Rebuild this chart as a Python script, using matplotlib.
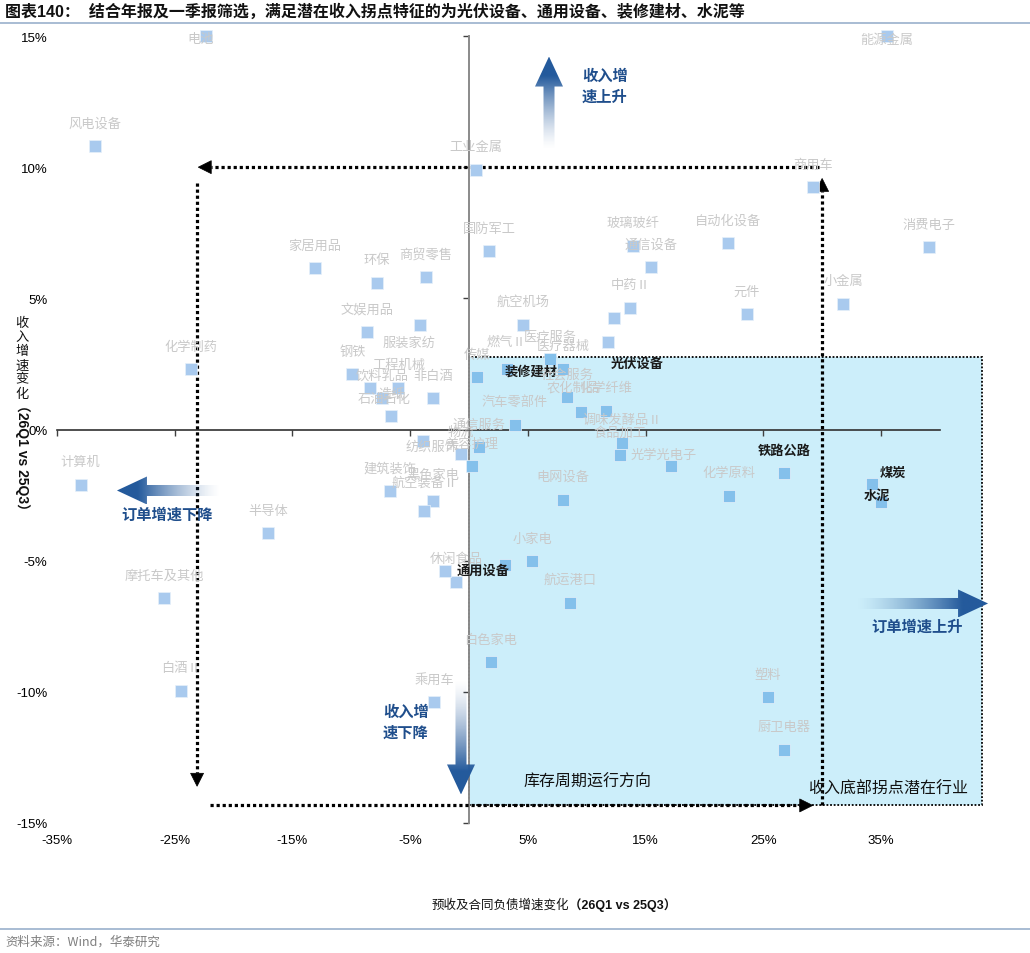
import matplotlib
matplotlib.use('Agg')
import matplotlib.pyplot as plt
import numpy as np
from matplotlib.patches import Rectangle, Polygon
from matplotlib.lines import Line2D
from matplotlib.colors import to_rgb

plt.rcParams['font.family'] = ['Noto Sans CJK SC', 'DejaVu Sans']

# ---------------- data ----------------
industries = ['电池', '能源金属', '风电设备', '工业金属', '商用车', '自动化设备', '消费电子',
              '国防军工', '玻璃玻纤', '通信设备', '家居用品', '环保', '商贸零售', '小金属',
              '中药Ⅱ', '元件', '', '航空机场', '服装家纺', '文娱用品', '光伏设备', '化学制药',
              '钢铁', '石油石化', '工程机械', '饮料乳品', '非白酒', '造纸', '纺织服饰', '物流',
              '建筑装饰', '黑色家电', '航空装备Ⅱ', '计算机', '半导体', '休闲食品', '',
              '摩托车及其他', '白酒Ⅱ', '乘用车',
              '医疗服务', '医疗器械', '燃气Ⅱ', '装修建材', '传媒', '社会服务', '农化制品',
              '化学纤维', '汽车零部件', '通信服务', '美容护理', '调味发酵品Ⅱ', '食品加工',
              '光学光电子', '电网设备', '铁路公路', '化学原料', '煤炭', '水泥', '小家电',
              '通用设备', '航运港口', '白色家电', '塑料', '厨卫电器']
order_chg = [-22.3, 35.5, -31.8, 0.6, 29.2, 22.0, 39.1,
             1.7, 13.9, 15.5, -13.1, -7.8, -3.65, 31.8,
             13.7, 23.6, 12.3, 4.6, -4.2, -8.7, 11.8, -23.6,
             -9.9, -8.4, -6.0, -7.4, -3.05, -6.6, -3.9, -0.7,
             -6.7, -3.1, -3.8, -33.0, -17.1, -1.1, -2.0,
             -25.9, -24.5, -2.97,
             6.9, 8.0, 3.2, 3.2, 0.7, 8.3, 9.5,
             11.6, 3.9, 0.85, 0.25, 13.0, 12.8,
             17.2, 8.0, 26.8, 22.1, 34.2, 35.0, 5.35,
             3.06, 8.6, 1.87, 25.4, 26.8]
rev_chg = [15.0, 15.0, 10.8, 9.9, 9.25, 7.1, 6.95,
           6.8, 7.0, 6.2, 6.15, 5.6, 5.8, 4.8,
           4.65, 4.4, 4.25, 4.0, 4.0, 3.7, 3.35, 2.3,
           2.1, 1.6, 1.6, 1.2, 1.2, 0.5, -0.42, -0.95,
           -2.36, -2.74, -3.09, -2.1, -3.96, -5.8, -5.41,
           -6.44, -9.95, -10.4,
           2.67, 2.32, 2.32, 2.32, 2.0, 1.22, 0.65,
           0.72, 0.19, -0.68, -1.41, -0.5, -0.99,
           -1.41, -2.67, -1.64, -2.52, -2.06, -2.78, -5.03,
           -5.18, -6.6, -8.88, -10.2, -12.2]
highlight = ['光伏设备', '通用设备', '装修建材', '水泥', '煤炭', '铁路公路']
xticks = [-35, -25, -15, -5, 5, 15, 25, 35]
yticks = [-15, -10, -5, 0, 5, 10, 15]
xtick_labels = [f'{v}%' for v in xticks]
ytick_labels = [f'{v}%' for v in yticks]

# region of "潜在收入拐点" (x>0, y below 2.75%)
zone_x = (0, 43.6)
zone_y = (-14.33, 2.75)

# ---------------- layout / style ----------------
W, H = 1030, 954
fig = plt.figure(figsize=(W / 100, H / 100), dpi=100)
ax = fig.add_axes([57 / W, 1 - 824 / H, (998.7 - 57) / W, (824 - 37) / H])
ax.set_xlim(-35, 45)
ax.set_ylim(-15, 15)
ax.patch.set_visible(False)


def fx(px):
    return px / W


def fy(py):
    return 1 - py / H


label_offsets = {  # pixels (dx right, dy up) relative to marker
    '电池': (-6, -3), '能源金属': (0, -3), '服装家纺': (-10, -18), '石油石化': (14, -11),
    '纺织服饰': (9, -6), '光学光电子': (-8, 12), '光伏设备': (29, -21), '装修建材': (24, -2),
    '通用设备': (-22, -4), '煤炭': (21, 12), '水泥': (-4, 8), '农化制品': (-8, 25),
    '黑色家电': (0, 27), '航空装备Ⅱ': (0, 28), '燃气Ⅱ': (0, 27),
}

# spines
for s in ['top', 'right']:
    ax.spines[s].set_visible(False)
ax.spines['left'].set_position(('data', 0))
ax.spines['left'].set_bounds(-15, 15)
ax.spines['left'].set_color('#8a8a8a')
ax.spines['left'].set_linewidth(1.4)
ax.spines['bottom'].set_position(('data', 0))
ax.spines['bottom'].set_bounds(-35, 40)
ax.spines['bottom'].set_color('#303030')
ax.spines['bottom'].set_linewidth(1.2)
ax.set_xticks(xticks)
ax.set_yticks(yticks)
ax.tick_params(labelbottom=False, labelleft=False, direction='out', length=4, width=1,
               color='#404040')

secx = ax.secondary_xaxis('bottom')
secx.set_xticks(xticks, labels=xtick_labels, fontfamily='Liberation Sans', fontsize=9.5)
secx.tick_params(length=0, pad=8)
secx.spines['bottom'].set_visible(False)
secy = ax.secondary_yaxis('left')
secy.set_yticks(yticks, labels=ytick_labels, fontfamily='Liberation Sans', fontsize=9.5)
secy.tick_params(length=0, pad=7)
secy.spines['left'].set_visible(False)

# shaded zone
ax.add_patch(Rectangle((zone_x[0], zone_y[0]), zone_x[1] - zone_x[0], zone_y[1] - zone_y[0],
                       facecolor='#CCEEFA', edgecolor='black', linewidth=1.3,
                       linestyle=(0, (1, 1)), zorder=1, clip_on=False))

T = ax.transData


def poly_px(pts_px, **kw):
    data = T.inverted().transform(np.array(pts_px))
    p = Polygon(data, closed=True, transform=ax.transData, clip_on=False, **kw)
    ax.add_patch(p)
    return p, data


def dotted_arrow(start, tip, head_len=13, head_w=13):
    p0 = T.transform(start)
    p1 = T.transform(tip)
    d = p1 - p0
    u = d / np.hypot(*d)
    n = np.array([-u[1], u[0]])
    base = p1 - u * head_len
    base_d = T.inverted().transform(base)
    ax.plot([start[0], base_d[0]], [start[1], base_d[1]], color='black', lw=2.3,
            linestyle=(0, (1, 0.9)), dash_capstyle='butt', zorder=3, clip_on=False)
    poly_px([p1, base + n * head_w / 2, base - n * head_w / 2], facecolor='black',
            edgecolor='black', lw=0.5, zorder=3)


dotted_arrow((29.7, 10.0), (-23.0, 10.0))
dotted_arrow((-23.1, 9.4), (-23.1, -13.6))
dotted_arrow((-22.0, -14.33), (29.2, -14.33))
dotted_arrow((30.0, -14.33), (30.0, 9.57))


def grad_arrow(tail, tip, shaft=11, head_w=28, head_len=30, color='#245A9C'):
    p0 = T.transform(tail)
    p1 = T.transform(tip)
    d = p1 - p0
    u = d / np.hypot(*d)
    n = np.array([-u[1], u[0]])
    base = p1 - u * head_len
    pts = [p0 + n * shaft / 2, base + n * shaft / 2, base + n * head_w / 2, p1,
           base - n * head_w / 2, base - n * shaft / 2, p0 - n * shaft / 2]
    poly, data = poly_px(pts, facecolor='none', edgecolor='none', zorder=3)
    N = 256
    t = np.linspace(0, 1, N)
    alpha = np.clip(t / 0.8, 0, 1) ** 1.4
    rgba = np.zeros((N, 4))
    rgba[:, :3] = to_rgb(color)
    rgba[:, 3] = alpha
    horizontal = abs(u[0]) > abs(u[1])
    if horizontal:
        img = rgba[None, :, :] if u[0] > 0 else rgba[None, ::-1, :]
    else:
        img = rgba[:, None, :] if u[1] > 0 else rgba[::-1, None, :]
    ext = [data[:, 0].min(), data[:, 0].max(), data[:, 1].min(), data[:, 1].max()]
    im = ax.imshow(img, extent=ext, origin='lower', aspect='auto',
                   interpolation='bilinear', zorder=3)
    im.set_clip_path(poly)
    im.set_clip_on(True)


# arrows given by pixel positions converted to data
def pxd(px, py):
    return ((px - 469) / 11.77, (430 - py) / 26.235)


grad_arrow(pxd(549, 150), pxd(549, 57))
grad_arrow(pxd(220, 491), pxd(117, 491))
grad_arrow(pxd(856, 604), pxd(988, 604))
grad_arrow(pxd(461, 680), pxd(461, 795))

ax.set_xlim(-35, 45)
ax.set_ylim(-15, 15)

# points
for name, x, y in zip(industries, order_chg, rev_chg):
    inside = zone_x[0] < x < zone_x[1] and zone_y[0] < y < zone_y[1]
    ax.scatter([x], [y], marker='s', s=70, color='#84C0EB' if inside else '#A9CAEE',
               edgecolors='#E6F0FA', linewidths=0.5, zorder=4, clip_on=False)
for name, x, y in zip(industries, order_chg, rev_chg):
    if not name:
        continue
    dx, dy = label_offsets.get(name, (0, 23))
    hl = name in highlight
    ax.annotate(name, (x, y), xytext=(dx * 0.72, dy * 0.72), textcoords='offset points',
                ha='center', va='center', fontsize=9.5,
                color='#1a1a1a' if hl else '#C9C9C9',
                fontweight='bold' if hl else 'normal', zorder=5, annotation_clip=False)

# arrow captions
blue = '#1F4E8C'
fig.text(fx(582), fy(76), '收入增', color=blue, fontsize=11, fontweight='bold', ha='left', va='center')
fig.text(fx(582), fy(97), '速上升', color=blue, fontsize=11, fontweight='bold', ha='left', va='center')
fig.text(fx(383), fy(712), '收入增', color=blue, fontsize=11, fontweight='bold', ha='left', va='center')
fig.text(fx(383), fy(733), '速下降', color=blue, fontsize=11, fontweight='bold', ha='left', va='center')
fig.text(fx(167), fy(515), '订单增速下降', color=blue, fontsize=11, fontweight='bold', ha='center', va='center')
fig.text(fx(917), fy(627), '订单增速上升', color=blue, fontsize=11, fontweight='bold', ha='center', va='center')
fig.text(fx(588), fy(782), '库存周期运行方向', color='#111111', fontsize=11.5, style='italic',
         ha='center', va='center')
fig.text(fx(888), fy(789), '收入底部拐点潜在行业', color='#111111', fontsize=11.5,
         ha='center', va='center')

# axis titles
fig.text(fx(22), fy(317), '收\n入\n增\n速\n变\n化', fontsize=9.5, ha='center', va='top',
         linespacing=1.12, color='#111111')
fig.text(fx(22), fy(398), '（26Q1 vs 25Q3）', fontsize=10, ha='center', va='top',
         rotation=-90, fontweight='bold', family=['Liberation Sans', 'Noto Sans CJK SC'],
         color='#111111')
fig.text(fx(569), fy(905), '预收及合同负债增速变化', fontsize=9, ha='right', va='center',
         color='#111111')
fig.text(fx(569), fy(905), '（26Q1 vs 25Q3）', fontsize=9, ha='left', va='center',
         fontweight='bold', family=['Liberation Sans', 'Noto Sans CJK SC'], color='#111111')

# title & source
fig.text(fx(5), fy(12), '图表140：  结合年报及一季报筛选，满足潜在收入拐点特征的为光伏设备、通用设备、装修建材、水泥等',
         fontsize=11.5, fontweight='bold', ha='left', va='center',
         family=['Liberation Sans', 'Noto Sans CJK SC'], color='#111111')
fig.add_artist(Line2D([0, 1], [fy(24), fy(24)], transform=fig.transFigure, color='#9AB0CC', lw=1.2))
fig.add_artist(Line2D([0, 1], [fy(930), fy(930)], transform=fig.transFigure, color='#9AB0CC', lw=1.2))
fig.text(fx(5), fy(942), '资料来源：Wind，华泰研究', fontsize=9, color='#7F7F7F', ha='left', va='center')

fig.savefig('out.png', dpi=100)
